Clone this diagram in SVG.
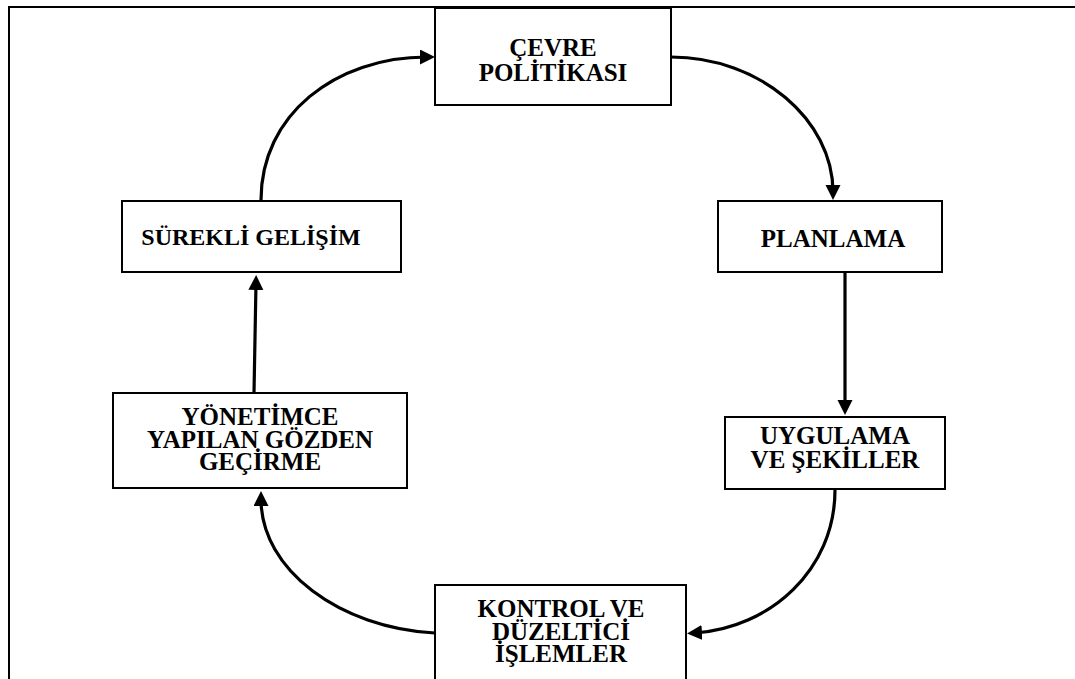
<svg xmlns="http://www.w3.org/2000/svg" width="1075" height="679" viewBox="0 0 1075 679">
  <style>
    .frame { fill: none; stroke: #000; stroke-width: 2; }
    .box { fill: #fff; stroke: #000; stroke-width: 2; }
    .lbl { font-family: "Liberation Serif", "Times New Roman", serif; font-weight: bold; font-size: 25px; fill: #000; text-anchor: middle; }
    .small { font-size: 24px; }
    .link { fill: none; stroke: #000; stroke-width: 3.2; marker-end: url(#head); }
  </style>
  <defs>
    <marker id="head" markerUnits="userSpaceOnUse" markerWidth="16" markerHeight="16" refX="7" refY="7.5" orient="auto">
      <path d="M0,0 L15,7.5 L0,15 z" fill="#000"/>
    </marker>
  </defs>

  <rect width="1075" height="679" fill="#fff"/>
  <!-- page frame: top and left edges -->
  <path class="frame" d="M9,690 L9,7 L1080,7"/>

  <g id="connectors">
    <path class="link" d="M261,200 C261,115 335,57 427,57"/>
    <path class="link" d="M671,57 C760,57 833,120 833,192"/>
    <path class="link" d="M845,272 L845,407"/>
    <path class="link" d="M835,490 C835,570 770,628 695,633"/>
    <path class="link" d="M435,633 C340,628 261,570 261,499"/>
    <path class="link" d="M254,393 L256,283"/>
  </g>

  <g id="cevre-politikasi">
    <rect class="box" x="435" y="8" width="236" height="97"/>
    <text class="lbl" x="553" y="56">ÇEVRE</text>
    <text class="lbl" x="553" y="81">POLİTİKASI</text>
  </g>

  <g id="planlama">
    <rect class="box" x="718" y="201" width="224" height="71"/>
    <text class="lbl" x="833" y="247">PLANLAMA</text>
  </g>

  <g id="uygulama">
    <rect class="box" x="725" y="417" width="220" height="72"/>
    <text class="lbl" x="835" y="444">UYGULAMA</text>
    <text class="lbl" x="835" y="468">VE ŞEKİLLER</text>
  </g>

  <g id="kontrol">
    <rect class="box" x="435" y="585" width="251" height="110"/>
    <text class="lbl" x="561" y="617">KONTROL VE</text>
    <text class="lbl" x="561" y="640">DÜZELTİCİ</text>
    <text class="lbl" x="561" y="662">İŞLEMLER</text>
  </g>

  <g id="yonetim">
    <rect class="box" x="113" y="393" width="294" height="95"/>
    <text class="lbl" x="260" y="425">YÖNETİMCE</text>
    <text class="lbl" x="260" y="448">YAPILAN GÖZDEN</text>
    <text class="lbl" x="260" y="470">GEÇİRME</text>
  </g>

  <g id="surekli-gelisim">
    <rect class="box" x="122" y="201" width="279" height="71"/>
    <text class="lbl small" x="251" y="245">SÜREKLİ GELİŞİM</text>
  </g>
</svg>
